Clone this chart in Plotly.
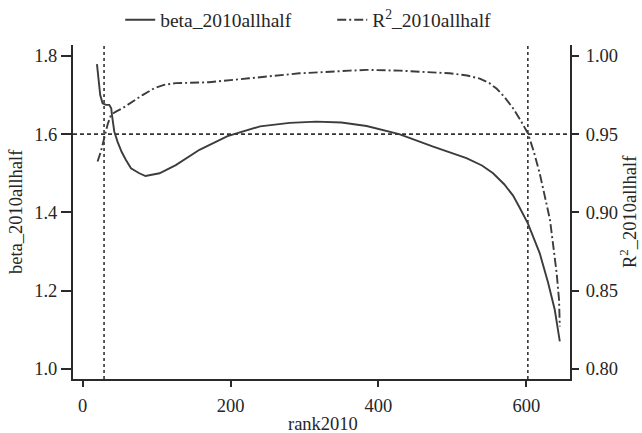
import plotly.graph_objects as go

# ---- data ----
rank_beta = [19.4, 21.5, 23.8, 27, 31.5, 36, 38.7, 39.7, 42.8, 47.2, 52.7, 58.6, 65.4, 76.6, 85,
             104, 126, 158, 196, 240, 280, 316, 350, 384, 428, 474, 519, 540, 555, 570, 582,
             591, 602, 618, 629.4, 638.4, 645.2]
beta = [1.779, 1.734, 1.700, 1.679, 1.675, 1.675, 1.666, 1.649, 1.607, 1.581, 1.555, 1.534, 1.513,
        1.500, 1.493, 1.500, 1.521, 1.560, 1.595, 1.620, 1.629, 1.632, 1.630, 1.621, 1.600, 1.568,
        1.539, 1.520, 1.500, 1.472, 1.443, 1.412, 1.372, 1.296, 1.220, 1.151, 1.070]

rank_r2 = [20.2, 24.7, 29.2, 33.7, 38.3, 45, 54, 67.5, 81, 97, 110, 126, 171, 225, 293, 361, 384,
           429, 496, 520, 537, 550, 560, 570, 582, 592, 602, 610, 618, 627, 632, 636, 641, 644.2, 645.2]
r2 = [0.9325, 0.9389, 0.9474, 0.9560, 0.9623, 0.9644, 0.9666, 0.9708, 0.9750, 0.9794, 0.9815,
      0.9826, 0.9832, 0.9857, 0.9889, 0.9906, 0.9911, 0.9906, 0.9889, 0.9875, 0.9855, 0.9826,
      0.9790, 0.9740, 0.9666, 0.9590, 0.9506, 0.9390, 0.9250, 0.9060, 0.8950, 0.8800, 0.8610,
      0.8440, 0.8270]

ref_x = [29, 602]
ref_beta = 1.6

x_title = "rank2010"
y_title = "beta_2010allhalf"
y2_title = "R<sup>2</sup>_2010allhalf"

x_ticks = [0, 200, 400, 600]
beta_ticks = [1.0, 1.2, 1.4, 1.6, 1.8]
r2_ticks = [0.80, 0.85, 0.90, 0.95, 1.00]

beta_range = [0.974, 1.828]
r2_range = [0.8 + (beta_range[0] - 1) / 4, 0.8 + (beta_range[1] - 1) / 4]

FONT = "Liberation Serif"
FS = 18.5
LINE_COL = "#3c3c3c"
AX_COL = "#2a2a2a"
TXT = "#262626"

fig = go.Figure()
fig.add_trace(go.Scatter(x=rank_beta, y=beta, mode="lines", name=y_title,
                         line=dict(color=LINE_COL, width=1.9), yaxis="y"))
fig.add_trace(go.Scatter(x=rank_r2, y=r2, mode="lines", name=y2_title,
                         line=dict(color=LINE_COL, width=1.9, dash="9px,3px,2px,3px"), yaxis="y2"))

for xv in ref_x:
    fig.add_shape(type="line", xref="x", yref="paper", x0=xv, x1=xv, y0=0, y1=1,
                  line=dict(color="#333", width=1.6, dash="dot"), layer="below")
fig.add_shape(type="line", xref="paper", yref="y", x0=0, x1=1, y0=ref_beta, y1=ref_beta,
              line=dict(color="#333", width=1.6, dash="4px,3px"), layer="below")

titlefont = dict(family=FONT, size=FS, color=TXT)
fig.add_annotation(text=x_title, xref="paper", yref="paper", x=0.5, y=0, xshift=1, yshift=-45,
                   xanchor="center", yanchor="middle", showarrow=False, font=titlefont)
fig.add_annotation(text=y_title, xref="paper", yref="paper", x=0, y=0.5, xshift=-57,
                   xanchor="center", yanchor="middle", textangle=-90, showarrow=False,
                   font=titlefont, borderpad=0)
fig.add_annotation(text=y2_title, xref="paper", yref="paper", x=1, y=0.5, xshift=58,
                   xanchor="center", yanchor="middle", textangle=-90, showarrow=False,
                   font=titlefont, borderpad=0)

tickfont = dict(family=FONT, size=FS, color=TXT)
fig.update_layout(
    width=642, height=433,
    margin=dict(l=73, r=72, t=45, b=54),
    paper_bgcolor="white", plot_bgcolor="white",
    font=dict(family=FONT, size=FS, color=TXT),
    showlegend=True,
    legend=dict(orientation="h", x=0.095, xanchor="left", y=1 - 20 / 433, yanchor="middle",
                yref="container", font=dict(family=FONT, size=19.5, color=TXT),
                bgcolor="rgba(0,0,0,0)", entrywidth=167, entrywidthmode="pixels"),
    xaxis=dict(range=[-13, 659], tickvals=x_ticks, ticks="outside", ticklen=6, tickwidth=1.6,
               tickcolor=AX_COL, showline=True, linecolor=AX_COL, linewidth=2, showgrid=False,
               zeroline=False, tickfont=tickfont, ticklabelstandoff=3, automargin=False),
    yaxis=dict(range=beta_range, tickvals=beta_ticks, ticktext=[f"{v:.1f}" for v in beta_ticks],
               ticks="outside", ticklen=10, tickwidth=1.6, tickcolor=AX_COL, showline=True,
               linecolor=AX_COL, linewidth=2, showgrid=False, zeroline=False, tickfont=tickfont,
               ticklabelstandoff=0, automargin=False),
    yaxis2=dict(range=r2_range, tickvals=r2_ticks, ticktext=[f"{v:.2f}" for v in r2_ticks],
                overlaying="y", side="right", ticks="outside", ticklen=7, tickwidth=1.6,
                tickcolor=AX_COL, showline=True, linecolor=AX_COL, linewidth=2, showgrid=False,
                zeroline=False, tickfont=tickfont, ticklabelstandoff=3, automargin=False),
)

# remove the browser's default 8px page margin so the figure starts at the window corner
fig.write_html("out.html", config={"displayModeBar": False},
               post_script="document.body.style.margin='0';document.body.style.overflow='hidden';")
